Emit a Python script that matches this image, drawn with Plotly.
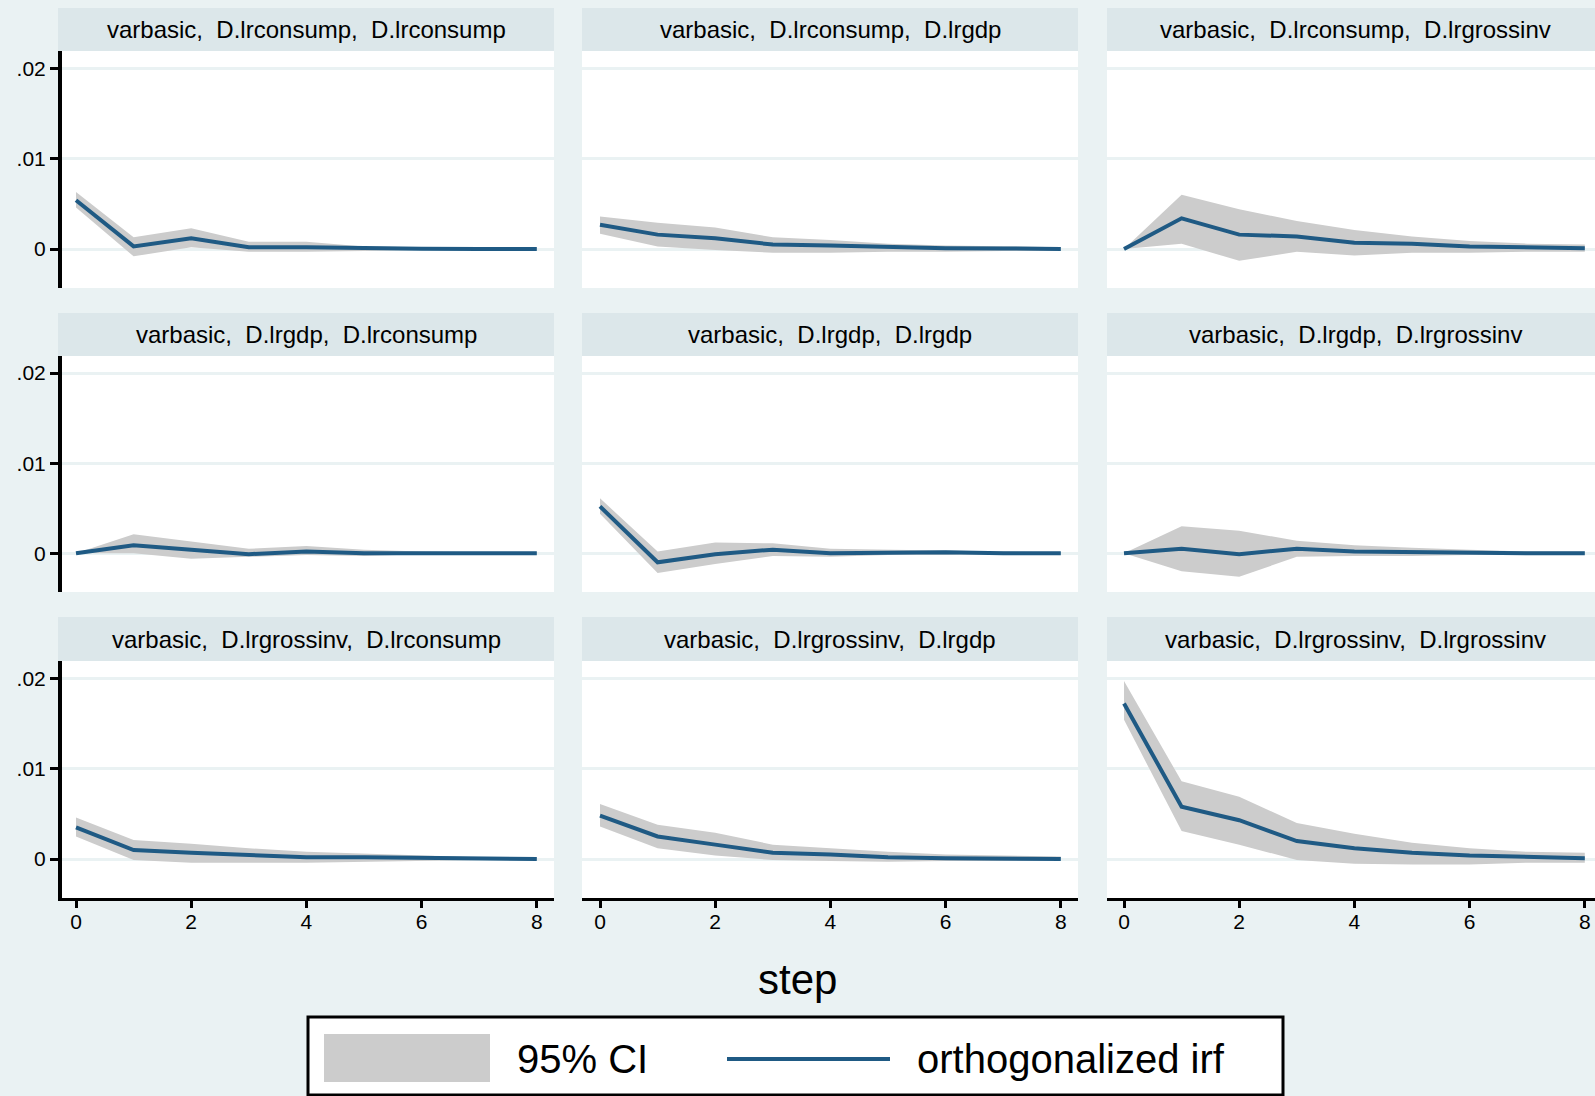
import plotly.graph_objects as go

# ---------------- data ----------------
steps = [0, 1, 2, 3, 4, 5, 6, 7, 8]
x_ticks = [0, 2, 4, 6, 8]
y_ticks = [0, 0.01, 0.02]
y_tick_labels = ["0", ".01", ".02"]

titles = [
    "varbasic,  D.lrconsump,  D.lrconsump",
    "varbasic,  D.lrconsump,  D.lrgdp",
    "varbasic,  D.lrconsump,  D.lrgrossinv",
    "varbasic,  D.lrgdp,  D.lrconsump",
    "varbasic,  D.lrgdp,  D.lrgdp",
    "varbasic,  D.lrgdp,  D.lrgrossinv",
    "varbasic,  D.lrgrossinv,  D.lrconsump",
    "varbasic,  D.lrgrossinv,  D.lrgdp",
    "varbasic,  D.lrgrossinv,  D.lrgrossinv",
]

irf_c_c = [0.0054, 0.0003, 0.0012, 0.0002, 0.0002, 0.0001, 0.00005, 0.00002, 0.0]
lo_c_c = [0.0046, -0.0008, 0.0002, -0.0003, -0.0003, -0.0002, -0.0001, -0.0001, -0.0001]
hi_c_c = [0.0063, 0.0013, 0.0023, 0.0008, 0.0008, 0.0003, 0.0002, 0.0001, 0.0001]

irf_c_g = [0.0027, 0.0016, 0.0012, 0.0005, 0.0004, 0.0002, 0.0001, 0.00007, 0.00002]
lo_c_g = [0.0017, 0.0003, -0.0001, -0.0004, -0.0004, -0.0003, -0.0003, -0.0002, -0.0002]
hi_c_g = [0.0036, 0.0029, 0.0024, 0.0013, 0.0010, 0.0006, 0.0004, 0.0003, 0.0002]

irf_c_i = [0.0, 0.0034, 0.0016, 0.0014, 0.0007, 0.0006, 0.0003, 0.0002, 0.0001]
lo_c_i = [0.0, 0.0006, -0.0013, -0.0003, -0.0007, -0.0004, -0.0004, -0.0003, -0.0003]
hi_c_i = [0.0, 0.0060, 0.0044, 0.0031, 0.0021, 0.0014, 0.0009, 0.0006, 0.0005]

irf_g_c = [0.0, 0.0009, 0.0004, -0.0001, 0.0002, 0.0, 0.0, 0.0, 0.0]
lo_g_c = [0.0, 0.0, -0.0006, -0.0004, -0.0002, -0.0003, -0.0001, -0.0001, -0.0001]
hi_g_c = [0.0, 0.0021, 0.0013, 0.0005, 0.0008, 0.0004, 0.0002, 0.0001, 0.0001]

irf_g_g = [0.0052, -0.0010, -0.0001, 0.0004, 0.0, 0.0001, 0.0001, 0.0, 0.0]
lo_g_g = [0.0044, -0.0022, -0.0012, -0.0003, -0.0004, -0.0002, -0.0002, -0.0001, -0.0001]
hi_g_g = [0.0061, 0.0002, 0.0012, 0.0011, 0.0005, 0.0004, 0.0003, 0.0002, 0.0001]

irf_g_i = [0.0, 0.0005, -0.0001, 0.0005, 0.0002, 0.0001, 0.0001, 0.0, 0.0]
lo_g_i = [0.0, -0.0020, -0.0026, -0.0004, -0.0003, -0.0003, -0.0002, -0.0002, -0.0001]
hi_g_i = [0.0, 0.0030, 0.0025, 0.0014, 0.0009, 0.0006, 0.0004, 0.0002, 0.0002]

irf_i_c = [0.0035, 0.0010, 0.0007, 0.0004, 0.0002, 0.0002, 0.0001, 0.00005, 0.0]
lo_i_c = [0.0025, -0.0001, -0.0004, -0.0004, -0.0004, -0.0003, -0.0002, -0.0001, -0.0001]
hi_i_c = [0.0046, 0.0021, 0.0017, 0.0012, 0.0008, 0.0006, 0.0004, 0.0002, 0.0001]

irf_i_g = [0.0048, 0.0025, 0.0016, 0.0007, 0.0005, 0.0002, 0.0001, 0.0001, 0.0]
lo_i_g = [0.0036, 0.0012, 0.0004, -0.0001, -0.0002, -0.0003, -0.0002, -0.0002, -0.0001]
hi_i_g = [0.0061, 0.0038, 0.0029, 0.0016, 0.0012, 0.0008, 0.0005, 0.0004, 0.0003]

irf_i_i = [0.0172, 0.0058, 0.0043, 0.0020, 0.0012, 0.0007, 0.0004, 0.0002, 0.0001]
lo_i_i = [0.0154, 0.0031, 0.0016, -0.0001, -0.0005, -0.0006, -0.0006, -0.0004, -0.0004]
hi_i_i = [0.0197, 0.0086, 0.0069, 0.0040, 0.0028, 0.0018, 0.0012, 0.0008, 0.0007]

panels = [
    (irf_c_c, lo_c_c, hi_c_c), (irf_c_g, lo_c_g, hi_c_g), (irf_c_i, lo_c_i, hi_c_i),
    (irf_g_c, lo_g_c, hi_g_c), (irf_g_g, lo_g_g, hi_g_g), (irf_g_i, lo_g_i, hi_g_i),
    (irf_i_c, lo_i_c, hi_i_c), (irf_i_g, lo_i_g, hi_i_g), (irf_i_i, lo_i_i, hi_i_i),
]

# ---------------- style / layout ----------------
W, H = 1595, 1096
BG = "#EAF2F3"
STRIP = "#DCE7EA"
CI_COL = "#CCCCCC"
LINE_COL = "#1F5A84"
FONT = "Liberation Sans, Arial, sans-serif"

col_px = [(62, 554), (582, 1078), (1107, 1595)]
strip_col_px = [(58, 554), (582, 1078), (1107, 1595)]
step0_px = [76, 600, 1124]
row_px = [(51, 288), (356, 592), (661, 898)]
strip_px = [(8, 51), (313, 356), (617, 661)]
px_per_step = 57.6
y_range = [-0.0043, 0.0219]


def px2x(p):
    return p / W


def px2y(p):
    return 1 - p / H


fig = go.Figure()
layout = dict(
    width=W, height=H,
    margin=dict(l=0, r=0, t=0, b=0),
    paper_bgcolor=BG, plot_bgcolor="white",
    showlegend=False,
    font=dict(family=FONT, color="black"),
)
shapes = []
annotations = []

for i, (irf, lo, hi) in enumerate(panels):
    r, c = divmod(i, 3)
    k = i + 1
    xa = "x" if k == 1 else f"x{k}"
    ya = "y" if k == 1 else f"y{k}"
    x0, x1 = col_px[c]
    y0, y1 = row_px[r]
    left = -(step0_px[c] - x0) / px_per_step
    right = left + (x1 - x0) / px_per_step

    fig.add_trace(go.Scatter(
        x=steps + steps[::-1], y=hi + lo[::-1],
        fill="toself", fillcolor=CI_COL, line=dict(width=0, color=CI_COL),
        mode="lines", xaxis=xa, yaxis=ya, hoverinfo="skip",
    ))
    fig.add_trace(go.Scatter(
        x=steps, y=irf, mode="lines",
        line=dict(color=LINE_COL, width=4),
        xaxis=xa, yaxis=ya,
    ))

    xkey = "xaxis" if k == 1 else f"xaxis{k}"
    ykey = "yaxis" if k == 1 else f"yaxis{k}"
    bottom_row = r == 2
    first_col = c == 0
    layout[xkey] = dict(
        domain=[px2x(x0), px2x(x1)], anchor=ya, range=[left, right],
        tickvals=x_ticks, showticklabels=bottom_row,
        ticks="outside" if bottom_row else "", ticklen=7, tickwidth=3, tickcolor="black",
        ticklabelstandoff=-4,
        showline=bottom_row, linecolor="black", linewidth=3,
        showgrid=False, zeroline=False,
        tickfont=dict(size=21, family=FONT, color="black"),
    )
    layout[ykey] = dict(
        domain=[px2y(y1), px2y(y0)], anchor=xa, range=y_range,
        tickvals=y_ticks, ticktext=y_tick_labels, showticklabels=first_col,
        ticks="outside" if first_col else "", ticklen=8, tickwidth=3, tickcolor="black",
        showline=first_col, linecolor="black", linewidth=4,
        showgrid=True, gridcolor=BG, gridwidth=3, zeroline=False,
        tickfont=dict(size=21, family=FONT, color="black"),
    )

    # white extension of col1 plot area to the left of the axis line
    if c == 0:
        shapes.append(dict(type="rect", xref="paper", yref="paper",
                           x0=px2x(58), x1=px2x(62), y0=px2y(y1), y1=px2y(y0),
                           fillcolor="white", line=dict(width=0), layer="below"))

    sx0, sx1 = strip_col_px[c]
    sy0, sy1 = strip_px[r]
    shapes.append(dict(type="rect", xref="paper", yref="paper",
                       x0=px2x(sx0), x1=px2x(sx1), y0=px2y(sy1), y1=px2y(sy0),
                       fillcolor=STRIP, line=dict(width=0), layer="below"))
    cx = (sx0 + sx1) / 2 if c < 2 else (1107 + 1603) / 2
    annotations.append(dict(
        xref="paper", yref="paper", x=px2x(cx),
        y=px2y((sy0 + sy1) / 2), text=titles[i], showarrow=False,
        xanchor="center", yanchor="middle",
        font=dict(size=24, family=FONT, color="black"),
    ))

annotations.append(dict(xref="paper", yref="paper", x=px2x(797), y=px2y(979),
                        text="step", showarrow=False, xanchor="center", yanchor="middle",
                        font=dict(size=42, family=FONT, color="black")))

shapes.append(dict(type="rect", xref="paper", yref="paper",
                   x0=px2x(308), x1=px2x(1283), y0=px2y(1095), y1=px2y(1017),
                   fillcolor="white", line=dict(color="black", width=3)))
shapes.append(dict(type="rect", xref="paper", yref="paper",
                   x0=px2x(324), x1=px2x(490), y0=px2y(1082), y1=px2y(1034),
                   fillcolor=CI_COL, line=dict(width=0)))
shapes.append(dict(type="line", xref="paper", yref="paper",
                   x0=px2x(727), x1=px2x(890), y0=px2y(1059), y1=px2y(1059),
                   line=dict(color=LINE_COL, width=4)))
annotations.append(dict(xref="paper", yref="paper", x=px2x(515), y=px2y(1059),
                        text="95% CI", showarrow=False, xanchor="left", yanchor="middle",
                        font=dict(size=40, family=FONT, color="black")))
annotations.append(dict(xref="paper", yref="paper", x=px2x(915), y=px2y(1059),
                        text="orthogonalized irf", showarrow=False, xanchor="left", yanchor="middle",
                        font=dict(size=40, family=FONT, color="black")))

layout["shapes"] = shapes
layout["annotations"] = annotations
fig.update_layout(**layout)
fig.write_html(
    "out.html",
    config={"displayModeBar": False},
    post_script="document.body.style.margin='0';document.body.style.overflow='hidden';"
                "document.body.style.background='" + BG + "';",
)
